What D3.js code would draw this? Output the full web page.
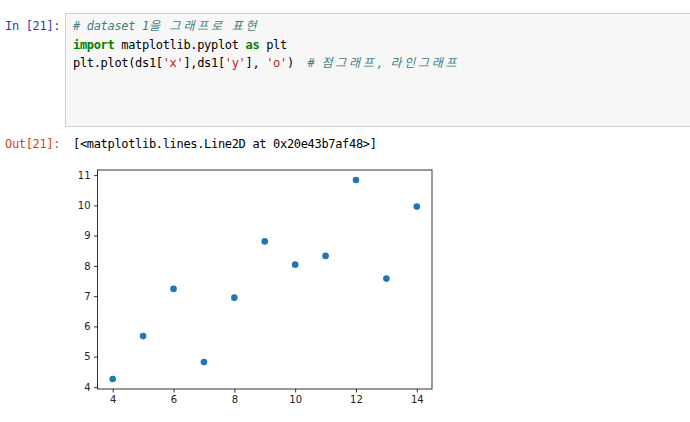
<!DOCTYPE html>
<html><head><meta charset="utf-8">
<script src="https://cdn.jsdelivr.net/npm/d3@7"></script>
<style>html,body{margin:0;padding:0;background:#fff;}svg{display:block;}</style>
</head><body>
<svg id="c" width="690" height="422"></svg>
<script>
// Anscombe dataset 1
const xs = [10, 8, 13, 9, 11, 14, 6, 4, 12, 7, 5];
const ys = [8.04, 6.95, 7.58, 8.81, 8.33, 9.96, 7.24, 4.26, 10.84, 4.82, 5.68];
const xTicks = [4, 6, 8, 10, 12, 14];
const yTicks = [4, 5, 6, 7, 8, 9, 10, 11];

const inPrompt = "In [21]:";
const outPrompt = "Out[21]:";
const outText = "[<matplotlib.lines.Line2D at 0x20e43b7af48>]";
// code lines as [text, style] segments
const codeLines = [
  [["# dataset 1을 그래프로 표현", "comment"]],
  [["import", "kw"], [" matplotlib.pyplot ", "plain"], ["as", "kw"], [" plt", "plain"]],
  [["plt.plot(ds1[", "plain"], ["'x'", "str"], ["],ds1[", "plain"], ["'y'", "str"], ["], ", "plain"], ["'o'", "str"], [")  ", "plain"], ["# 점그래프, 라인그래프", "comment"]]
];

const svg = d3.select("#c");
const mono = "'DejaVu Sans Mono','Noto Sans CJK KR',monospace";
const cw = 6.9;
const isWide = ch => ch.codePointAt(0) >= 0x1100;
const styles = {
  plain: {fill: "#000", weight: "normal", italic: false},
  kw: {fill: "#008000", weight: "bold", italic: false},
  str: {fill: "#ba2121", weight: "normal", italic: false},
  comment: {fill: "#408080", weight: "normal", italic: true}
};

// input cell box
svg.append("rect").attr("x", 65.5).attr("y", 13.5).attr("width", 640).attr("height", 113)
  .attr("fill", "#f7f7f7").attr("stroke", "#cfcfcf").attr("stroke-width", 1);

// one <text> per line, each char placed on a monospace grid
function monoLine(segs, x0, y, fontSize) {
  const t = svg.append("text").attr("y", y)
    .attr("font-family", mono).attr("font-size", fontSize || 12);
  let x = x0;
  segs.forEach(([s, st]) => {
    const chars = Array.from(s);
    const pos = [];
    chars.forEach(ch => { pos.push(x.toFixed(2)); x += (isWide(ch) ? 2 : 1) * cw; });
    const ts = t.append("tspan").attr("x", pos.join(" ")).attr("fill", st.fill)
      .attr("font-weight", st.weight).text(s);
    if (st.italic) ts.attr("font-style", "italic");
  });
}

monoLine([[inPrompt, {fill: "#303f9f", weight: "normal"}]], 5, 30);
const baselines = [30, 48.5, 67];
codeLines.forEach((segs, i) => monoLine(segs.map(([s, k]) => [s, styles[k]]), 73, baselines[i]));

monoLine([[outPrompt, {fill: "#d84315", weight: "normal"}]], 5, 148);
monoLine([[outText, {fill: "#000", weight: "normal"}]], 73, 148);

// chart
const x = d3.scaleLinear().domain([3.5, 14.5]).range([97.5, 432]);
const y = d3.scaleLinear().domain([3.931, 11.169]).range([389, 170]);

const gx = svg.append("g").attr("transform", "translate(0,389)")
  .call(d3.axisBottom(x).tickValues(xTicks).tickSize(3.5).tickPadding(3.5).tickFormat(d3.format("d")));
const gy = svg.append("g").attr("transform", "translate(97.5,0)")
  .call(d3.axisLeft(y).tickValues(yTicks).tickSize(3.5).tickPadding(3.5).tickFormat(d3.format("d")));
[gx, gy].forEach(g => {
  g.select(".domain").remove();
  g.selectAll("line").attr("stroke", "#000").attr("stroke-width", 0.8);
  g.selectAll("text").attr("font-family", "'DejaVu Sans',sans-serif").attr("font-size", 10).attr("fill", "#222");
});

svg.append("rect").attr("x", 97.5).attr("y", 170).attr("width", 432 - 97.5).attr("height", 389 - 170)
  .attr("fill", "none").attr("stroke", "#000").attr("stroke-width", 0.8);

svg.append("g").selectAll("circle").data(xs.map((d, i) => [d, ys[i]])).join("circle")
  .attr("cx", d => x(d[0])).attr("cy", d => y(d[1])).attr("r", 3.3).attr("fill", "#1f77b4");
</script>
</body></html>
